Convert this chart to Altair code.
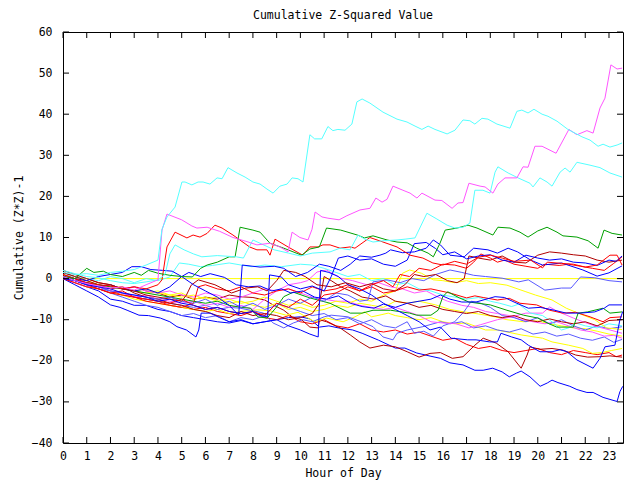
import altair as alt
import pandas as pd

# ---------------- data (hour of day, cumulative (z*z)-1) ----------------
hour_ticks = list(range(0, 24))
value_ticks = [-40, -30, -20, -10, 0, 10, 20, 30, 40, 50, 60]

zero_h = [0, 23.59]
zero_v = [0, 0]

cyan1_h = [0, 0.5, 1, 1.5, 2, 2.5, 3, 3.5, 4.0, 4.17, 4.38, 4.72, 5.01, 5.14, 5.43, 5.69, 5.9, 6.19, 6.49, 6.7, 6.95, 7.33, 7.67, 8.0, 8.3, 8.59, 8.85, 9.14, 9.44, 9.65, 9.9, 10.11, 10.4, 10.6, 10.9, 11.16, 11.37, 11.58, 11.88, 12.17, 12.38, 12.6, 12.93, 13.48, 14.07, 14.49, 14.83, 15.12, 15.38, 15.67, 16.18, 16.51, 16.85, 17.14, 17.35, 17.65, 17.9, 18.28, 18.83, 19.12, 19.33, 19.59, 19.84, 20.18, 20.43, 20.81, 21.27, 21.86, 22.2, 22.54, 22.75, 23.04, 23.34, 23.55]
cyan1_v = [1.5, 1, 1.2, 0.8, 1.5, 1.8, 2.2, 3.3, 4.5, 12, 15, 17.4, 23.5, 23.5, 22.8, 23.5, 23.5, 23, 24.5, 24.3, 27, 25.7, 24.7, 23.5, 23, 21.8, 20.8, 22.5, 23, 24.5, 24.3, 23.5, 35, 34, 34, 37, 36, 36.3, 36.1, 37.6, 43, 43.7, 42.7, 40.5, 38.8, 38.1, 37.1, 36.3, 37.1, 36.3, 35.2, 36.1, 38.6, 38.4, 37.6, 39, 38.8, 37.6, 36.6, 40.7, 41, 40.3, 41.2, 40, 39.5, 38.3, 36.3, 34.5, 33.7, 32.2, 32.7, 32, 32.5, 33]

magenta1_h = [0, 0.5, 1, 1.5, 2, 2.5, 3, 3.5, 4.0, 4.17, 4.38, 5.0, 5.43, 5.64, 6.07, 6.6, 7.16, 7.75, 8.17, 8.72, 9.14, 9.48, 9.65, 9.98, 10.32, 10.49, 10.62, 10.91, 11.16, 11.63, 11.96, 12.51, 12.93, 13.18, 13.44, 13.65, 13.9, 14.32, 14.62, 14.91, 15.12, 15.67, 15.96, 16.39, 16.64, 16.85, 17.1, 17.57, 17.78, 18.11, 18.32, 18.62, 19.12, 19.38, 19.59, 19.88, 20.18, 20.77, 21.31, 21.65, 22.07, 22.33, 22.62, 22.83, 23.08, 23.34, 23.55]
magenta1_v = [0.5, -0.5, -1.2, -1.8, -2.3, -2, -2.8, -1.5, -0.3, 11.8, 15.7, 14.3, 12.8, 12.3, 12.5, 11.5, 10, 9, 8.2, 8.6, 7.7, 6.5, 11.3, 10, 9.4, 12, 16.2, 15, 14.7, 14.3, 15.3, 16.7, 17.1, 19.6, 18.6, 19.3, 22.5, 21.5, 20.8, 19.6, 20.8, 19.1, 19, 17.1, 18.4, 18.5, 23.2, 22.5, 22.3, 20.8, 23, 24.5, 24.5, 27.2, 27.1, 32.2, 32.2, 30.5, 36.3, 35, 36, 35.4, 41.5, 43.9, 52, 51, 51.2]

cyan2_h = [0, 0.5, 1, 1.5, 2, 2.5, 3, 3.5, 4, 4.3, 4.5, 4.72, 5.1, 5.5, 5.85, 6.5, 7.3, 7.6, 8.0, 8.3, 8.9, 9.5, 10, 10.5, 11.25, 11.67, 12.09, 12.43, 12.72, 13.06, 13.48, 14.07, 14.41, 14.83, 15.33, 15.75, 16.18, 16.51, 16.85, 17.14, 17.35, 17.69, 17.99, 18.2, 18.32, 18.75, 19.17, 19.67, 19.8, 20.09, 20.39, 20.6, 20.94, 21.15, 21.36, 21.65, 22.2, 22.62, 23.04, 23.55]
cyan2_v = [2, 1.2, 0.5, 0.2, -0.5, -1, -1.2, -0.8, -0.3, 1, 6, 8.2, 7, 6, 5.3, 5.6, 5.3, 5, 9.4, 8.6, 7.0, 6.2, 5.5, 6.2, 6.5, 7.4, 7, 10.6, 9.6, 8.9, 9.2, 9.4, 9.6, 9.9, 15.9, 14.5, 13, 12.3, 12.5, 13.5, 21.5, 21.5, 20.8, 25.9, 27.2, 25.7, 24.5, 23.2, 22.3, 24.5, 23.5, 22.5, 25.9, 26.9, 25.9, 28.3, 27.6, 27, 25.7, 24.7]

green1_h = [0, 0.5, 1, 1.3, 1.7, 2, 2.5, 3, 3.3, 3.6, 4, 4.5, 5, 5.45, 5.8, 6.07, 6.5, 7.0, 7.25, 7.46, 8.0, 8.3, 8.72, 9.3, 10.05, 10.4, 10.8, 11.1, 11.7, 12.4, 12.7, 13.06, 13.65, 14.07, 14.5, 14.9, 15.38, 15.6, 15.88, 16.1, 16.6, 17.06, 17.44, 18.11, 18.32, 18.83, 19.25, 19.59, 20.0, 20.39, 20.81, 21.06, 21.65, 22.12, 22.54, 22.79, 23.13, 23.55]
green1_v = [0.5, 0, 2.5, 1.5, 1.8, 1, 0.5, 1.5, 0.8, 2, 1.3, 0.8, 0.5, 0.4, 2.5, 3.3, 4, 5.3, 5.3, 12.5, 11.8, 11.3, 8.6, 7.4, 5.7, 7.2, 7.7, 12.3, 11.8, 10.6, 9.9, 10.4, 9.4, 8.9, 8.7, 7.4, 6.2, 5.3, 8.6, 11.8, 12.3, 13, 12.3, 10.6, 12.5, 12.3, 11.3, 10.1, 11.6, 12.5, 11.3, 10.4, 10.1, 9.2, 7.4, 11.8, 11, 10.6]

red1_h = [0, 0.5, 1, 1.5, 2, 2.5, 3, 3.5, 4.0, 4.17, 4.38, 4.72, 5.22, 5.48, 5.77, 6.07, 6.4, 6.7, 7.16, 7.86, 8.17, 8.59, 8.72, 8.93, 9.48, 10.1, 10.4, 10.74, 10.95, 11.25, 11.67, 12.09, 12.3, 12.93, 13.48, 14.07, 14.62, 15.16, 15.58, 16.0, 16.5, 17.0, 17.5, 18.0, 18.5, 19.0, 19.7, 20.2, 20.4, 21.0, 21.5, 22.0, 22.5, 23.04, 23.34, 23.55]
red1_v = [1, 0, -1, -1.5, -1.8, -2.5, -2, -2.5, -1.5, -0.3, 7.7, 11.3, 9.9, 10.6, 10.1, 11, 13, 12.3, 10.6, 7.7, 7, 7, 5.7, 9.6, 7.7, 5.7, 7.7, 7.7, 8.2, 8.2, 7.4, 7.7, 7.4, 10, 8.9, 7.7, 5.7, 5, 3.8, 3.3, 4.2, 3.5, 5.2, 5.7, 5, 4.2, 4.5, 2.6, 4, 3.7, 3.5, 2.8, 3.3, 5.7, 5.7, 3.3]

red2_h = [0, 0.5, 1, 1.5, 2, 2.5, 3, 3.5, 4, 4.5, 5, 5.5, 6, 6.5, 7, 7.5, 8, 8.5, 9, 9.5, 10, 10.5, 11, 11.5, 12, 12.5, 13, 13.5, 13.9, 14.2, 14.6, 15, 15.5, 16, 16.5, 17, 17.3, 17.6, 18, 18.3, 18.6, 19, 19.5, 20, 20.3, 20.9, 21.3, 21.8, 22.3, 22.8, 23.2, 23.55]
red2_v = [0, -1, -2, -2.5, -3.5, -3, -4.5, -5, -5.5, -6, -5, -6.5, -7.5, -7, -8, -8.5, -8, -9, -6, -7, -5, -6.5, -4, -3.5, -2, -3, -1.5, -0.5, -2, 1, 0.5, 2.5, 2, 3.5, 3.3, 2.5, 4, 6, 5, 4, 4.5, 3.5, 3, 2.5, 3.5, 3.2, 3.5, 3, 2.5, 2, 3.7, 5.3]

red3_h = [0, 0.5, 1, 1.5, 2, 2.5, 3, 3.5, 4, 4.5, 5, 5.5, 5.7, 6, 6.5, 7, 7.5, 8, 8.5, 9, 9.5, 10, 10.5, 11, 11.5, 12, 12.5, 13, 13.5, 14, 14.5, 15, 15.5, 16.3, 17.0, 17.35, 17.7, 18.3, 18.8, 19.25, 19.95, 20.5, 21.06, 21.6, 22.2, 22.75, 23.04, 23.55]
red3_v = [1, 0, -1.5, -2.5, -3.5, -4, -4.5, -5.5, -6, -6.5, -7, -6, -2, -1.5, -2.5, -3, -2, -3.5, -4, -3, -2.5, -3.5, -2, -3, -2.5, -1.5, -3, -2, -3.5, -3, -2, -2.8, -2.5, -3.5, -4.7, -4.2, -4.6, -5.2, -4.8, -6, -6.4, -7.7, -8.4, -8.2, -9.3, -10.5, -9.5, -9.3]

red4_h = [0, 0.5, 1, 1.5, 2, 2.5, 3, 3.5, 4, 4.5, 5, 5.5, 6, 6.5, 7, 7.5, 8, 8.5, 9, 9.5, 10, 10.5, 11, 11.5, 12, 12.5, 13, 13.5, 14, 14.5, 15, 15.5, 16, 16.5, 17, 17.5, 18, 18.5, 19, 19.5, 20, 20.5, 21, 21.5, 22, 22.5, 23, 23.3, 23.55]
red4_v = [0.5, -0.5, -1.5, -2, -3, -4, -4.5, -5, -5.5, -6.5, -7, -7.5, -7, -8, -8.5, -9, -8, -9.5, -10, -9, -10.5, -11, -10, -11.5, -12, -11, -12.5, -13, -12.5, -13.5, -13, -14, -15, -14.5, -16, -17, -16.5, -17.5, -18, -17.5, -17, -18, -18.5, -17.5, -18, -18.5, -18, -19, -18.6]

darkredA_h = [0, 0.5, 1, 1.5, 2, 2.5, 3, 3.5, 4, 4.5, 5, 5.2, 5.4, 5.7, 6.4, 7.1, 7.7, 8.2, 8.6, 9, 9.3, 9.8, 10.2, 10.7, 11.3, 11.9, 12.5, 13, 13.5, 14, 14.4, 14.8, 15.2, 15.7, 16.2, 16.6, 16.9, 17.1, 17.5, 18, 18.5, 19, 19.5, 20, 20.5, 21, 21.5, 22, 22.5, 23, 23.55]
darkredA_v = [2, 1, 0, -1, -1.5, -2.5, -3, -4, -4.5, -5, -5.5, -4, -1.6, -0.3, -1.5, -3.5, -2.3, -2, -3, -0.5, 2, 1.5, 0.5, -1.5, -2, -1, -2, -1.2, -2.5, -3, -1.5, 1, 0.5, 1, -0.5, -1, 0, 5.5, 5, 4.5, 5.5, 4, 3.8, 5.7, 6.5, 6.2, 5.8, 5.5, 4.5, 4, 4.5]

darkredC_h = [0, 0.5, 1, 1.5, 2, 2.5, 3, 3.5, 4, 4.5, 5, 5.5, 6, 6.5, 7, 7.5, 8, 8.5, 9, 9.5, 10, 10.5, 10.8, 11, 11.3, 11.7, 12.1, 12.6, 13.1, 13.6, 14, 14.5, 15, 15.5, 16, 16.5, 17, 17.5, 18, 18.5, 19, 19.5, 20, 20.5, 21, 21.5, 22, 22.5, 23, 23.55]
darkredC_v = [1.5, 0.5, -0.5, -1.5, -2.5, -2, -3.5, -4.5, -5, -6, -6.5, -7.5, -8, -9, -9.5, -8, -9, -8.5, -9, -10, -9.5, -8.5, -6, 0.5, -0.5, -2, -3, -4.5, -5, -4.2, -5.5, -6, -7, -6.5, -7.5, -8, -8.5, -8, -9, -9.5, -9, -10, -10.5, -9.8, -10.5, -11, -10.5, -11.5, -10.2, -10]

darkredD_h = [0, 0.5, 1, 1.5, 2, 2.5, 3, 3.5, 4, 4.5, 5, 5.5, 6, 6.5, 7, 7.45, 8, 8.5, 8.85, 9.3, 9.65, 10.05, 10.4, 10.75, 10.8, 11.1, 11.67, 12.1, 12.5, 12.93, 13.5, 14.0, 14.5, 15.0, 15.46, 15.9, 16.4, 16.85, 17.35, 17.7, 18.25, 18.75, 19.3, 19.55, 19.67, 20.09, 20.6, 21.06, 21.6, 22.1, 22.62, 23.04, 23.55]
darkredD_v = [1.5, 0.5, 0, -1, -1.5, -2.5, -2, -3, -3.5, -4.5, -4, -5, -4.5, -5, -4, -4.4, -4.6, -5.2, -6.4, -7.7, -9.3, -10, -11.8, -12, -10, -10.5, -12, -13.7, -15.4, -16.9, -16.2, -16.6, -17.8, -19.1, -18.2, -18, -19.4, -19, -16.2, -14.5, -15.7, -17.8, -21.8, -18.6, -16.6, -17.2, -17, -17.4, -18.6, -19.1, -19, -18.8, -19.1]

blueLow_h = [0, 0.5, 1, 1.5, 2, 2.5, 3, 3.5, 4, 4.5, 5, 5.5, 6, 6.5, 7, 7.5, 8, 8.5, 9, 9.5, 10, 10.4, 10.8, 11.2, 11.6, 12.2, 12.6, 13.3, 14.0, 14.4, 14.9, 15.5, 15.9, 16.3, 16.85, 17.35, 17.7, 18.1, 18.5, 18.8, 19.1, 19.3, 19.67, 20.1, 20.4, 20.6, 20.85, 21.35, 21.65, 22.07, 22.33, 22.75, 23.34, 23.46, 23.58]
blueLow_v = [0, -1, -2, -3, -5, -5.5, -6.5, -6.5, -7.5, -8, -9, -9.5, -10, -10.5, -10.8, -10.2, -11, -10.5, -10, -9.5, -9.3, -9.8, -11.8, -11.5, -12, -12.5, -13.3, -15, -16.9, -16.9, -18.1, -18.9, -19.4, -20.5, -21, -22.3, -22.3, -21.8, -22.7, -23.9, -23, -22.5, -23.9, -26.2, -25.4, -24.7, -25.3, -26.2, -27, -27.7, -27.7, -28.9, -29.9, -27.5, -26.2]

blueD_h = [0, 0.5, 1, 1.5, 2, 2.4, 2.7, 3.2, 3.6, 4.1, 4.5, 4.8, 5.2, 5.6, 5.72, 5.82, 6.2, 6.6, 7.0, 7.5, 8.0, 8.5, 9.0, 9.5, 10.0, 10.4, 10.75, 10.85, 11.2, 11.6, 12.0, 12.5, 13.0, 13.5, 14.0, 14.5, 15.0, 15.46, 15.9, 16.35, 17.05, 17.4, 17.97, 18.3, 18.45, 18.9, 19.3, 19.6, 20.09, 20.6, 20.94, 21.23, 21.65, 22.33, 22.62, 22.83, 23.25, 23.46, 23.58]
blueD_v = [0, -1.5, -3, -4.5, -6.4, -7, -7.7, -8.9, -9, -9.6, -10.5, -11.7, -12.5, -14.2, -12.5, -8.4, -8.4, -9.5, -10.5, -10, -11, -10.5, -10, -11.5, -12.5, -13.5, -14.2, 2, 1.5, 0.5, -1.5, -2.5, -4, -6, -7.5, -9, -10.5, -12.5, -11.8, -14.5, -14.9, -14.9, -15.4, -15.4, -13.3, -14.2, -14.9, -16.2, -17.8, -17.8, -17.3, -17.8, -19.8, -21.8, -19.4, -16.6, -16.2, -10, -8]

blueA_h = [0, 0.5, 1, 1.5, 2, 2.5, 2.9, 3.3, 3.7, 4.2, 4.6, 5, 5.5, 6, 6.5, 7, 7.4, 7.55, 8, 8.3, 8.9, 9.3, 9.8, 10.3, 10.8, 11.2, 11.7, 12.1, 12.5, 13, 13.35, 13.6, 13.8, 14.3, 14.8, 15.3, 15.6, 15.9, 16.3, 16.9, 17.3, 17.9, 18.3, 18.75, 19.15, 19.7, 20.2, 21, 21.9, 22.5, 23, 23.55]
blueA_v = [0.5, 0, -0.5, 0.5, 1, 1.5, 2.9, 2.9, 2.2, 2, 1.8, 0.5, -1.5, -3, -4.5, -6.5, -8.9, 3.3, 3, 2.8, 3, 2.5, 0.5, 1.5, 3.5, 3, 2, 3.5, 5.5, 5.2, 5.7, 6.2, 7, 6.3, 6.5, 7.4, 9.4, 8.2, 5.7, 5.3, 7.4, 7, 6.2, 7.4, 6.5, 4.5, 3.3, 3.8, 2.1, 0.6, 1.4, 3.1]

blueB_h = [0, 0.5, 1, 1.5, 2, 2.5, 3, 3.5, 4, 4.5, 5, 5.5, 6, 6.5, 7, 7.5, 8, 8.3, 8.62, 8.7, 9.2, 9.5, 10, 10.5, 11, 11.3, 11.6, 12, 12.5, 13, 13.5, 14, 14.5, 14.8, 15.3, 15.7, 16, 16.5, 17, 17.5, 18, 18.5, 19, 19.5, 20, 20.5, 21, 21.5, 22, 22.5, 23, 23.3, 23.55]
blueB_v = [0, -0.5, -1.5, -2, -2.5, -3.5, -4, -4.5, -5.5, -5, -6, -6.5, -7.5, -7, -8, -8.5, -8, -9, -9.3, 0.9, 0.4, -1.5, -2.5, -1.8, -3, 0.5, 5, 5.5, 4.5, 4.8, 3.5, 3, 4.5, 8.5, 8.8, 7.3, 5.8, 6.5, 4.8, 5.5, 5.8, 4.5, 4, 5.7, 5, 4.5, 4.8, 4, 3.8, 3.2, 4.5, 4.2, 5.5]

blueC_h = [0, 0.5, 1, 1.5, 2, 2.5, 3, 3.5, 4, 4.5, 5, 5.3, 5.8, 6.2, 6.8, 7.3, 7.8, 8.3, 8.8, 9.2, 9.6, 10.1, 10.6, 11.1, 11.6, 12.1, 12.6, 13.1, 13.5, 14, 14.5, 15, 15.5, 15.9, 16.3, 16.8, 17.4, 18.2, 18.6, 19.0, 19.6, 20.1, 20.7, 21.2, 21.8, 22.4, 22.8, 23.0, 23.55]
blueC_v = [0.5, -0.5, -1, -2, -1.5, -2.5, -3, -2.5, -3.5, -2, 0.5, 1.5, 0.5, 1.2, 0.3, -1.5, -2, -1.8, -3, -2.5, -3.5, -3, -4.5, -5, -4.2, -6, -6.8, -7.2, -6.2, -7, -6, -5.5, -5, -4, -5, -5.7, -5.7, -4.4, -4.6, -5.7, -7.2, -7, -7.7, -8.4, -8.4, -8.1, -7.2, -6.4, -6.4]

lblueA_h = [0, 0.5, 1, 1.5, 2, 2.5, 3, 3.5, 4, 4.5, 5, 5.5, 6, 6.5, 7, 7.5, 8, 8.5, 9, 9.5, 10, 10.5, 11, 11.5, 12, 12.5, 12.85, 13.06, 13.65, 14.2, 14.7, 15.2, 15.7, 16.3, 16.8, 17.3, 17.8, 18.5, 19.2, 19.6, 20.3, 21.0, 21.4, 21.8, 22.4, 23, 23.55]
lblueA_v = [0, -0.5, -1.5, -2, -3, -3.5, -4, -4.5, -5, -4.5, -5.5, -6, -5, -6.5, -5.5, -7, -6, -7.5, -6.5, -5, -6, -4.5, -5.5, -3.5, -4, -5.5, -5.2, -0.8, -0.3, -1, 0, -0.5, 1, 2.1, 1.5, 0.8, 0.5, 0.1, -0.8, -0.3, -2.8, -2.3, -2.3, 0.4, 0.2, -0.5, -0.8]

lblueB_h = [0, 0.5, 1, 1.5, 2, 2.5, 3, 3.5, 4, 4.5, 5, 5.5, 6, 6.5, 7, 7.5, 8, 8.5, 9, 9.5, 10, 10.5, 11, 11.5, 12, 12.5, 13, 13.5, 14, 14.5, 14.8, 15.2, 15.6, 16, 16.5, 16.9, 17.2, 17.6, 18, 18.5, 19, 19.5, 20, 20.5, 21, 21.5, 22, 22.5, 23, 23.55]
lblueB_v = [0.5, -0.5, -1.5, -2.5, -3.5, -4.5, -5.5, -6.5, -7, -8, -9, -8.5, -9.5, -9, -10.5, -9.5, -10, -9, -6, -7, -8, -9, -8.5, -10, -9.5, -11, -10, -11.5, -12, -10.5, -13.3, -12.8, -14, -11.5, -10.5, -8, -5.5, -6, -7, -9, -9.5, -10.5, -9.5, -11, -10, -11.5, -12.5, -11.5, -12.2, -11.7]

lblueC_h = [0, 0.5, 1, 1.5, 2, 2.5, 3, 3.5, 4, 4.5, 5, 5.5, 6, 6.5, 7, 7.46, 7.9, 8.45, 8.85, 9.3, 9.7, 10.1, 10.5, 11.0, 11.3, 12.0, 12.7, 13.06, 13.48, 13.9, 14.07, 14.5, 15.16, 15.9, 16.3, 16.8, 17.3, 17.8, 18.3, 18.8, 19.3, 19.8, 20.3, 20.8, 21.3, 21.8, 22.3, 22.8, 23.2, 23.55]
lblueC_v = [0.5, -0.5, -1.5, -2.5, -3, -3.5, -4.5, -5, -5.5, -6, -6.5, -7, -6.5, -7.5, -7, -7.2, -7.7, -8.4, -10.8, -12, -10.8, -10, -10.5, -9.3, -8.9, -9.3, -10.8, -11.7, -14.2, -14.9, -13.3, -12.5, -11.7, -10.5, -11, -10.5, -12, -11.5, -12.5, -13, -12.2, -13.5, -13, -14, -13.5, -14.5, -15, -14.2, -15.5, -14.8]

cyan3_h = [0, 0.5, 1, 1.5, 2, 2.5, 3, 3.5, 4, 4.5, 4.9, 5.3, 5.8, 6.3, 7, 7.5, 7.95, 8.5, 9.2, 10, 10.5, 11, 11.5, 12, 12.5, 13, 13.5, 14, 14.5, 15, 15.5, 16, 16.5, 17, 17.5, 18, 18.4, 18.9, 19.2, 19.7, 20.2, 20.6, 21, 21.3, 21.6, 22, 22.5, 23, 23.55]
cyan3_v = [1, 0.5, 0, -0.5, 0.5, 0, -1, 0, -0.5, 0.4, 3.8, 3.5, 2.9, 3.2, 3.8, 3.3, 2.9, 3.3, 2.9, 3.5, 3.3, 2.5, 1.5, 0.5, 1, -0.5, 0, -1.5, -1, -2.5, -3, -4, -4.5, -5, -4.6, -5.5, -6, -6.8, -6.2, -8.4, -9, -10.5, -12.5, -12, -10.8, -11.5, -12, -11, -11.5]

green2_h = [0, 0.5, 1, 1.5, 2, 2.5, 3, 3.5, 4, 4.5, 5, 5.5, 6, 6.5, 7, 7.5, 7.9, 8.2, 8.6, 9, 9.3, 9.7, 10.4, 11.25, 12.1, 12.6, 13.06, 13.8, 14.6, 14.9, 15.5, 15.8, 16.0, 16.2, 16.7, 17.1, 18, 18.7, 19.4, 20, 20.4, 20.8, 21.5, 21.7, 22.1, 22.75, 23.04, 23.55]
green2_v = [0.5, -0.5, -1, -1.5, -2, -2.5, -3, -3.5, -4, -4.5, -5, -5.5, -6, -5.5, -6.5, -7, -7.2, -9.3, -9.6, -6.9, -4.4, -3.3, -4.7, -6, -8.4, -8.4, -7.7, -7.7, -8.4, -8.9, -8.9, -7.7, -4.4, -3.2, -4.7, -5.7, -6.4, -7.7, -8.9, -9.6, -10.8, -11.8, -11.8, -8.4, -8.1, -7.2, -8.4, -8.1]

magenta2_h = [0, 0.5, 1, 1.5, 2, 2.5, 3, 3.5, 4, 4.5, 5, 5.5, 6, 6.5, 7, 7.5, 8, 8.5, 9, 9.5, 10, 10.5, 11, 11.5, 12, 12.5, 13, 13.5, 14, 14.5, 15, 15.5, 16, 16.5, 17.1, 17.6, 18.3, 18.9, 19.5, 20.2, 20.5, 20.8, 21.5, 21.9, 22.5, 23.04, 23.55]
magenta2_v = [0, -1, -2, -1.5, -3, -3.5, -4.5, -4, -5, -5.5, -6, -5.5, -6.5, -6, -7, -6.5, -7.5, -5, -3, -2.5, -3.5, -4.5, -5, -5.5, -5.5, -6.5, -7, -7.5, -7, -8, -9, -10.5, -10.8, -10.9, -12, -11.2, -10, -9.3, -8.4, -8.4, -6.9, -7.9, -9.6, -10.5, -11.7, -12.5, -13.3]

magenta3_h = [0, 0.5, 1, 1.5, 2, 2.5, 3, 3.5, 4, 4.5, 5, 5.5, 6, 6.5, 7, 7.5, 8, 8.5, 9, 9.5, 10, 10.3, 10.7, 11.1, 11.7, 12.2, 12.8, 13.3, 13.8, 14.3, 14.8, 15.3, 15.8, 16.2, 16.8, 17.3, 17.8, 18.3, 18.8, 19.3, 19.8, 20.3, 20.8, 21.3, 21.8, 22.3, 22.8, 23.2, 23.55]
magenta3_v = [0.5, 0, -1, -1.5, -2, -2.5, -2, -3, -3.5, -3, -4, -4.5, -3.5, -4, -5, -4.5, -3.5, -2.5, -3, -1.5, -1, -0.5, 1.6, 2.1, 0.1, -0.5, -1.5, -1, -2, -2.5, -3.5, -3, -4.5, -5.5, -6.5, -7, -8, -8.5, -9, -10, -10.5, -11, -10.5, -11.5, -12.5, -13, -14, -13.8, -14.5]

yellowA_h = [0, 0.5, 1, 1.5, 2, 2.5, 3, 3.5, 4, 4.5, 5, 5.5, 6, 6.5, 7, 7.5, 8, 8.5, 9, 9.5, 10, 10.5, 11, 11.5, 12, 12.5, 13, 13.5, 14, 14.3, 14.6, 15.1, 15.6, 16.0, 16.5, 17, 17.5, 18, 18.7, 19.5, 19.9, 20.6, 21.2, 21.7, 22.4, 22.9, 23.55]
yellowA_v = [0.5, -0.5, -1, -2, -1.5, -2.5, -3, -2.5, -3.5, -4, -3.5, -5, -4.5, -5.5, -5, -6, -5.5, -4.5, -5.5, -6.5, -6, -7, -6.5, -5.5, -6, -5, -5.5, -4, -3, 1.3, 2.1, 1.3, -0.3, -0.5, -1, -0.5, -1.2, -1, -1.6, -3.2, -4, -5.2, -7.2, -8.4, -10, -12, -12.4]

yellowB_h = [0, 0.5, 1, 1.5, 2, 2.5, 3, 3.5, 4, 4.5, 5, 5.5, 6, 6.5, 7, 7.5, 8.2, 8.7, 9.4, 9.9, 10.6, 11.1, 11.8, 12.3, 12.7, 13.0, 13.4, 13.7, 14, 14.5, 15, 15.5, 16, 16.5, 17, 17.8, 18.3, 19.3, 20.2, 20.6, 21.3, 21.9, 22.3, 22.7, 23.1, 23.55]
yellowB_v = [0, -1, -2, -2.5, -3.5, -4, -5, -5.5, -6, -6.5, -7, -7.5, -8, -7.5, -8.5, -8, -7.6, -7.8, -8.9, -8.2, -10.5, -9.6, -10.5, -9.3, -8.1, -9.3, -8.8, -8.4, -9, -9.5, -10, -9.5, -10.5, -11, -10.8, -12.5, -12.5, -13.7, -14.5, -15.4, -16.2, -17, -18.2, -18, -17.5, -17]

yellowC_h = [0, 0.5, 1, 1.5, 2, 2.5, 3, 3.5, 4, 4.5, 5, 5.5, 6, 6.5, 7, 7.5, 8, 8.5, 9, 9.5, 10, 10.5, 11, 11.5, 12, 12.5, 13, 13.5, 14, 14.5, 15, 15.7, 16.3, 16.9, 17.5, 18.2, 18.7, 19.4, 20, 20.5, 21, 21.5, 22, 22.5, 23, 23.55]
yellowC_v = [1, 0, -0.5, -1.5, -2, -2, -3, -3.5, -3, -4, -4.5, -4, -5, -4.5, -6, -5.5, -6.5, -7, -6, -7.5, -7, -8, -7.5, -6.5, -7, -6, -6.5, -7, -5.5, -6, -5.5, -6.4, -7.5, -8.1, -8.6, -9.3, -10, -10.5, -10.3, -11, -11.5, -12, -12.2, -12.8, -13.5, -14]

RED, DRED, GREEN, BLUE, LBLUE = "#ff0000", "#b00000", "#00a000", "#0000ff", "#5a5aff"
CYAN, MAGENTA, YELLOW = "#55ffff", "#ff55ff", "#ffff00"

series = [
    ("zero", YELLOW, zero_h, zero_v),
    ("blueLow", BLUE, blueLow_h, blueLow_v),
    ("red4", RED, red4_h, red4_v),
    ("darkredD", DRED, darkredD_h, darkredD_v),
    ("yellowB", YELLOW, yellowB_h, yellowB_v),
    ("yellowC", YELLOW, yellowC_h, yellowC_v),
    ("lblueC", LBLUE, lblueC_h, lblueC_v),
    ("magenta3", MAGENTA, magenta3_h, magenta3_v),
    ("lblueB", LBLUE, lblueB_h, lblueB_v),
    ("magenta2", MAGENTA, magenta2_h, magenta2_v),
    ("cyan3", CYAN, cyan3_h, cyan3_v),
    ("yellowA", YELLOW, yellowA_h, yellowA_v),
    ("darkredC", DRED, darkredC_h, darkredC_v),
    ("red3", RED, red3_h, red3_v),
    ("green2", GREEN, green2_h, green2_v),
    ("blueC", BLUE, blueC_h, blueC_v),
    ("blueD", BLUE, blueD_h, blueD_v),
    ("lblueA", LBLUE, lblueA_h, lblueA_v),
    ("darkredA", DRED, darkredA_h, darkredA_v),
    ("red2", RED, red2_h, red2_v),
    ("blueB", BLUE, blueB_h, blueB_v),
    ("blueA", BLUE, blueA_h, blueA_v),
    ("red1", RED, red1_h, red1_v),
    ("green1", GREEN, green1_h, green1_v),
    ("cyan2", CYAN, cyan2_h, cyan2_v),
    ("magenta1", MAGENTA, magenta1_h, magenta1_v),
    ("cyan1", CYAN, cyan1_h, cyan1_v),
]

rows = []
for k, (name, col, hs, vs) in enumerate(series):
    for i, (h, v) in enumerate(zip(hs, vs)):
        rows.append({"series": name, "rank": k, "i": i, "hour": h, "value": v})
df = pd.DataFrame(rows)

names = [s[0] for s in series]
colors = [s[1] for s in series]

W, H = 560, 411
FONT = "DejaVu Sans Mono"
FS = 11.5

xscale = alt.Scale(domain=[0, 23.59], nice=False, zero=False)
yscale = alt.Scale(domain=[-40, 60], nice=False, zero=False)

xaxis = alt.Axis(values=hour_ticks, title="Hour of Day", tickSize=0, domain=False,
                 grid=False, labelPadding=7, titlePadding=6, labelFlush=False,
                 labelOverlap=False, format="d",
                 labelFont=FONT, labelFontSize=FS, labelColor="black",
                 titleFont=FONT, titleFontSize=FS, titleFontWeight="normal",
                 titleColor="black")
yaxis = alt.Axis(values=value_ticks, title="Cumulative (Z*Z)-1", tickSize=0, domain=False,
                 grid=False, labelPadding=11, titlePadding=7, format="d",
                 labelOverlap=False,
                 labelFont=FONT, labelFontSize=FS, labelColor="black",
                 titleFont=FONT, titleFontSize=FS, titleFontWeight="normal",
                 titleColor="black")

lines = alt.Chart(df).mark_line(strokeWidth=1, clip=True).encode(
    x=alt.X("hour:Q", scale=xscale, axis=xaxis, title="Hour of Day"),
    y=alt.Y("value:Q", scale=yscale, axis=yaxis, title="Cumulative (Z*Z)-1"),
    color=alt.Color("series:N", scale=alt.Scale(domain=names, range=colors), legend=None),
    detail="series:N",
    order="i:Q",
)

xt = pd.DataFrame({"hour": hour_ticks})
yt = pd.DataFrame({"value": value_ticks})

xt_bottom = alt.Chart(xt).mark_rule(color="black", strokeWidth=1).encode(
    x=alt.X("hour:Q", scale=xscale, axis=xaxis, title="Hour of Day"),
    y=alt.value(H), y2=alt.value(H - 6))
xt_top = alt.Chart(xt).mark_rule(color="black", strokeWidth=1).encode(
    x=alt.X("hour:Q", scale=xscale, axis=xaxis, title="Hour of Day"),
    y=alt.value(0), y2=alt.value(6))
yt_left = alt.Chart(yt).mark_rule(color="black", strokeWidth=1).encode(
    y=alt.Y("value:Q", scale=yscale, axis=yaxis, title="Cumulative (Z*Z)-1"),
    x=alt.value(0), x2=alt.value(6))
yt_right = alt.Chart(yt).mark_rule(color="black", strokeWidth=1).encode(
    y=alt.Y("value:Q", scale=yscale, axis=yaxis, title="Cumulative (Z*Z)-1"),
    x=alt.value(W), x2=alt.value(W - 6))

chart = alt.layer(lines, xt_bottom, xt_top, yt_left, yt_right).properties(
    width=W, height=H,
    background="white",
    title=alt.TitleParams("Cumulative Z-Squared Value", font=FONT, fontSize=FS,
                          fontWeight="normal", color="black", offset=5, anchor="middle"),
    autosize=alt.AutoSizeParams(type="none"),
    padding={"left": 63, "top": 32, "right": 17, "bottom": 37},
).configure_view(stroke="black", strokeWidth=1)

chart.save("out.html", embed_options={"renderer": "svg", "actions": False})
